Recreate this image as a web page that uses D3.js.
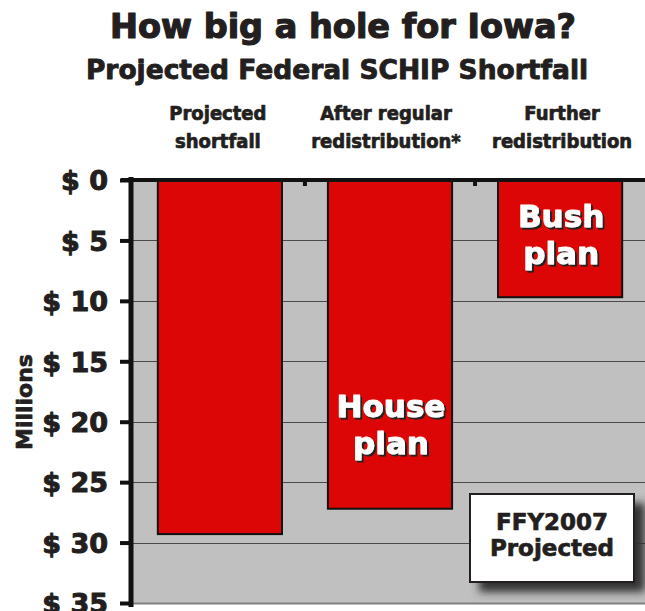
<!DOCTYPE html>
<html><head><meta charset="utf-8">
<script src="https://cdn.jsdelivr.net/npm/d3@7"></script>
<style>body{margin:0;background:#fff}svg{display:block}</style>
</head><body>
<svg id="c" width="645" height="611"></svg>
<script>
const categories = ["Projected shortfall", "After regular redistribution*", "Further redistribution"];
const catLines = [["Projected","shortfall"],["After regular","redistribution*"],["Further","redistribution"]];
const values = [29.3, 27.2, 9.7];
const tickValues = [0,5,10,15,20,25,30,35];
const barLabels = [null, ["House","plan"], ["Bush","plan"]];

const svg = d3.select("#c");
const font = "'DejaVu Sans', Verdana, sans-serif";
const condFont = "'DejaVu Sans Condensed', 'DejaVu Sans', sans-serif";
const ink = "#231f20";
const L = 131, R = 643, T = 180, B = 603;
const x = d3.scaleBand().domain(categories).range([L+3, R+3]).paddingInner(0.27).paddingOuter(0.14);
const y = d3.scaleLinear().domain([0, 35]).range([T, B]);

function heavy(sel, w, col){ return sel.attr("stroke", col||ink).attr("stroke-width", w).attr("stroke-linejoin","round").attr("paint-order","stroke"); }

const defs = svg.append("defs");
const f = defs.append("filter").attr("id","sh").attr("x","-20%").attr("y","-20%").attr("width","150%").attr("height","150%");
f.append("feGaussianBlur").attr("stdDeviation",4);
const ts = defs.append("filter").attr("id","ts");
ts.append("feDropShadow").attr("dx",2).attr("dy",2).attr("stdDeviation",0.3).attr("flood-color","#222").attr("flood-opacity",1);

// title
heavy(svg.append("text").attr("x",343).attr("y",38).attr("text-anchor","middle")
  .attr("font-family",font).attr("font-weight","bold").attr("font-size",33.5).attr("fill",ink), 1.2)
  .text("How big a hole for Iowa?");
heavy(svg.append("text").attr("x",337).attr("y",79).attr("text-anchor","middle")
  .attr("font-family",font).attr("font-weight","bold").attr("font-size",26.5).attr("fill",ink), 0.9)
  .text("Projected Federal SCHIP Shortfall");

// category labels
categories.forEach((c,i)=>{
  const t = heavy(svg.append("text").attr("text-anchor","middle")
    .attr("font-family",condFont).attr("font-weight","bold").attr("font-size",20).attr("fill",ink), 0.7);
  catLines[i].forEach((ln,j)=>{
    t.append("tspan").attr("x", x(c)+x.bandwidth()/2 + (i===2?2:(i===0?-2:-4))).attr("y", 120 + j*28).text(ln);
  });
});

// plot background
svg.append("rect").attr("x",L+2).attr("y",T).attr("width",645-L-2).attr("height",B-T).attr("fill","#c0c0c0");

// gridlines
svg.append("g").selectAll("line").data(tickValues.filter(d=>d>0&&d<35)).join("line")
  .attr("x1",L).attr("x2",645).attr("y1",d=>Math.round(y(d))+0.5).attr("y2",d=>Math.round(y(d))+0.5)
  .attr("stroke","#4a4a4a").attr("stroke-width",1.2);
svg.append("line").attr("x1",L).attr("x2",645).attr("y1",B+0.5).attr("y2",B+0.5).attr("stroke","#808080").attr("stroke-width",2);

// bars
svg.append("g").selectAll("rect").data(values).join("rect")
  .attr("x",(d,i)=>x(categories[i])).attr("y",y(0))
  .attr("width",x.bandwidth()).attr("height",d=>y(d)-y(0))
  .attr("fill","#dd0606").attr("stroke","#111").attr("stroke-width",2);

// bar labels
barLabels.forEach((lab,i)=>{
  if(!lab) return;
  const cx = x(categories[i]) + x.bandwidth()/2 + 1;
  const y0 = i===1 ? 417 : 227;
  const t = heavy(svg.append("text").attr("text-anchor","middle").attr("filter","url(#ts)")
    .attr("font-family",font).attr("font-weight","bold").attr("font-size",31).attr("fill","#fff"), 1, "#fff");
  lab.forEach((ln,j)=>t.append("tspan").attr("x",cx).attr("y",y0+j*37).text(ln));
});

// y axis
const yAxis = d3.axisLeft(y).tickValues(tickValues).tickSize(11).tickPadding(12).tickFormat(d=>"$ "+d);
const ga = svg.append("g").attr("transform",`translate(${L},0)`).call(yAxis);
ga.select(".domain").remove();
ga.selectAll(".tick line").attr("stroke","#111").attr("stroke-width",4);
heavy(ga.selectAll(".tick text").attr("font-family",font).attr("font-weight","bold").attr("font-size",27).attr("fill",ink).attr("dy","0.36em"), 1);
svg.append("line").attr("x1",L).attr("x2",L).attr("y1",T-3).attr("y2",B+4).attr("stroke","#111").attr("stroke-width",5);
// top axis
svg.append("line").attr("x1",L-10).attr("x2",645).attr("y1",T).attr("y2",T).attr("stroke","#111").attr("stroke-width",4);
// category boundary ticks on top axis
const bounds = [x(categories[1]) - x.step()*x.paddingInner()/2, x(categories[2]) - x.step()*x.paddingInner()/2];
svg.append("g").selectAll("line").data(bounds).join("line")
  .attr("x1",d=>d).attr("x2",d=>d).attr("y1",T).attr("y2",T+6).attr("stroke","#111").attr("stroke-width",4);

// Millions
heavy(svg.append("text").attr("transform","translate(32,402) rotate(-90)").attr("text-anchor","middle")
  .attr("font-family",font).attr("font-weight","bold").attr("font-size",22).attr("fill",ink), 0.7).text("Millions");

// note box
svg.append("rect").attr("x",479).attr("y",503).attr("width",166).attr("height",89).attr("fill","#333").attr("filter","url(#sh)");
svg.append("rect").attr("x",470).attr("y",494).attr("width",164).attr("height",88).attr("fill","#fff").attr("stroke",ink).attr("stroke-width",2);
const nt = heavy(svg.append("text").attr("text-anchor","middle").attr("font-family",font).attr("font-weight","bold").attr("font-size",23).attr("fill",ink), 0.7);
nt.append("tspan").attr("x",552).attr("y",530).text("FFY2007");
nt.append("tspan").attr("x",552).attr("y",556).text("Projected");
</script>
</body></html>
